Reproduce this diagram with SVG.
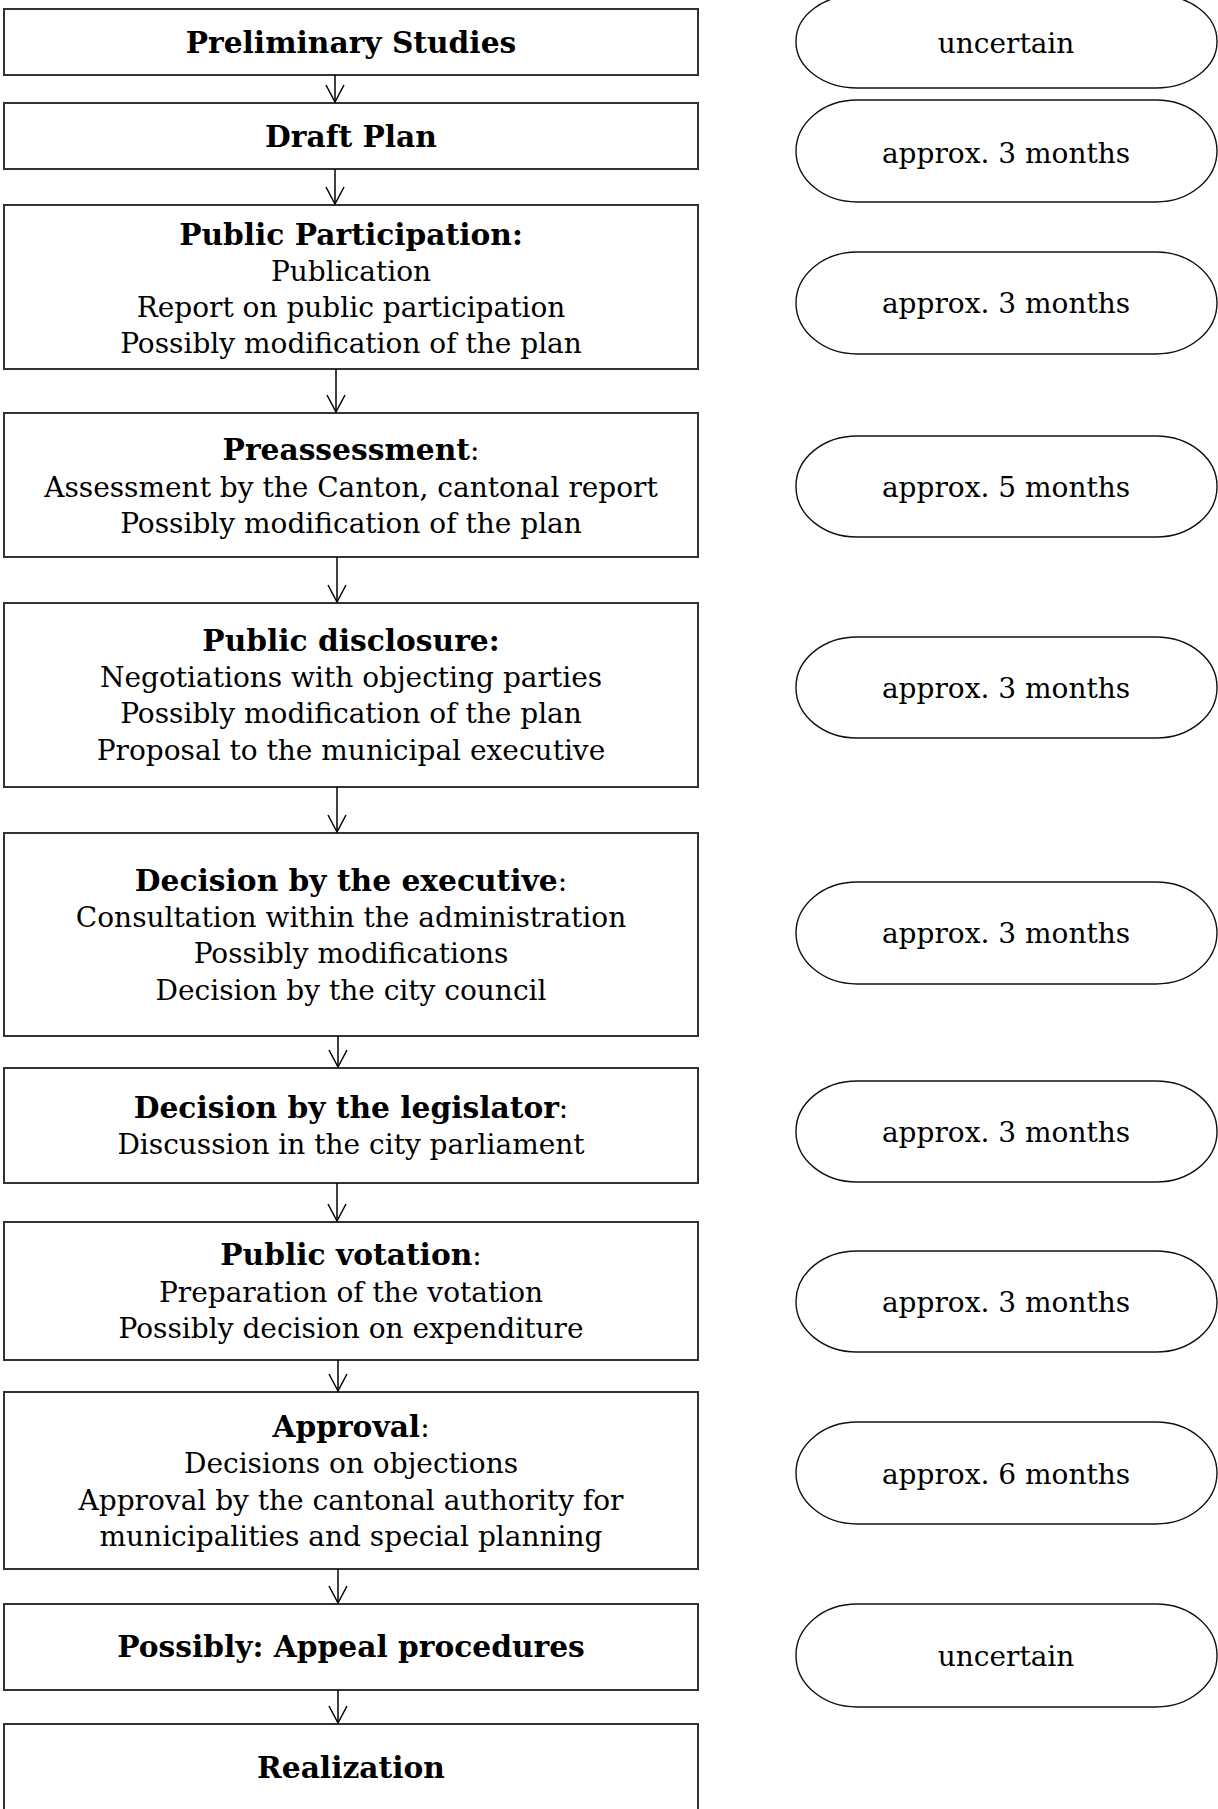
<svg xmlns="http://www.w3.org/2000/svg" width="1218" height="1809" viewBox="0 0 1218 1809">
<style>
  .box { fill: #ffffff; stroke: #333333; stroke-width: 2; }
  .pill { fill: #ffffff; stroke: #111111; stroke-width: 1.4; }
  .t { font-family: "DejaVu Serif", serif; font-size: 28px; fill: #000000; text-anchor: middle; }
  .b { font-weight: bold; font-size: 29.7px; }
  .conn line { stroke: #000000; stroke-width: 1.5; }
</style>
<defs>
  <marker id="arr" viewBox="0 0 20 20" refX="18" refY="10" markerWidth="20" markerHeight="20" markerUnits="userSpaceOnUse" orient="auto">
    <path d="M1,1 L18,10 L1,19" fill="none" stroke="#000000" stroke-width="1.5"/>
  </marker>
</defs>
<rect width="1218" height="1809" fill="#ffffff"/>

<g id="n1"><rect class="box" x="4" y="9" width="694" height="66"/>
<text class="t b" x="351" y="53">Preliminary Studies</text></g>

<g id="n2"><rect class="box" x="4" y="103" width="694" height="66"/>
<text class="t b" x="351" y="147">Draft Plan</text></g>

<g id="n3"><rect class="box" x="4" y="205" width="694" height="164"/>
<text class="t b" x="351" y="245">Public Participation:</text>
<text class="t" x="351" y="281">Publication</text>
<text class="t" x="351" y="317">Report on public participation</text>
<text class="t" x="351" y="353">Possibly modification of the plan</text></g>

<g id="n4"><rect class="box" x="4" y="413" width="694" height="144"/>
<text class="t" x="351" y="460"><tspan class="b">Preassessment</tspan>:</text>
<text class="t" x="351" y="497">Assessment by the Canton, cantonal report</text>
<text class="t" x="351" y="533">Possibly modification of the plan</text></g>

<g id="n5"><rect class="box" x="4" y="603" width="694" height="184"/>
<text class="t b" x="351" y="651">Public disclosure:</text>
<text class="t" x="351" y="687">Negotiations with objecting parties</text>
<text class="t" x="351" y="723">Possibly modification of the plan</text>
<text class="t" x="351" y="760">Proposal to the municipal executive</text></g>

<g id="n6"><rect class="box" x="4" y="833" width="694" height="203"/>
<text class="t" x="351" y="891"><tspan class="b">Decision by the executive</tspan>:</text>
<text class="t" x="351" y="927">Consultation within the administration</text>
<text class="t" x="351" y="963">Possibly modifications</text>
<text class="t" x="351" y="1000">Decision by the city council</text></g>

<g id="n7"><rect class="box" x="4" y="1068" width="694" height="115"/>
<text class="t" x="351" y="1118"><tspan class="b">Decision by the legislator</tspan>:</text>
<text class="t" x="351" y="1154">Discussion in the city parliament</text></g>

<g id="n8"><rect class="box" x="4" y="1222" width="694" height="138"/>
<text class="t" x="351" y="1265"><tspan class="b">Public votation</tspan>:</text>
<text class="t" x="351" y="1302">Preparation of the votation</text>
<text class="t" x="351" y="1338">Possibly decision on expenditure</text></g>

<g id="n9"><rect class="box" x="4" y="1392" width="694" height="177"/>
<text class="t" x="351" y="1437"><tspan class="b">Approval</tspan>:</text>
<text class="t" x="351" y="1473">Decisions on objections</text>
<text class="t" x="351" y="1510">Approval by the cantonal authority for</text>
<text class="t" x="351" y="1546">municipalities and special planning</text></g>

<g id="n10"><rect class="box" x="4" y="1604" width="694" height="86"/>
<text class="t b" x="351" y="1657">Possibly: Appeal procedures</text></g>

<g id="n11"><rect class="box" x="4" y="1724" width="694" height="110"/>
<text class="t b" x="351" y="1778">Realization</text></g>

<g id="d1"><rect class="pill" x="796" y="-5" width="421" height="93" rx="61" ry="46"/>
<text class="t" x="1006" y="53">uncertain</text></g>
<g id="d2"><rect class="pill" x="796" y="100" width="421" height="102" rx="61" ry="51"/>
<text class="t" x="1006" y="163">approx. 3 months</text></g>
<g id="d3"><rect class="pill" x="796" y="252" width="421" height="102" rx="61" ry="51"/>
<text class="t" x="1006" y="313">approx. 3 months</text></g>
<g id="d4"><rect class="pill" x="796" y="436" width="421" height="101" rx="61" ry="50"/>
<text class="t" x="1006" y="497">approx. 5 months</text></g>
<g id="d5"><rect class="pill" x="796" y="637" width="421" height="101" rx="61" ry="50"/>
<text class="t" x="1006" y="698">approx. 3 months</text></g>
<g id="d6"><rect class="pill" x="796" y="882" width="421" height="102" rx="61" ry="51"/>
<text class="t" x="1006" y="943">approx. 3 months</text></g>
<g id="d7"><rect class="pill" x="796" y="1081" width="421" height="101" rx="61" ry="50"/>
<text class="t" x="1006" y="1142">approx. 3 months</text></g>
<g id="d8"><rect class="pill" x="796" y="1251" width="421" height="101" rx="61" ry="50"/>
<text class="t" x="1006" y="1312">approx. 3 months</text></g>
<g id="d9"><rect class="pill" x="796" y="1422" width="421" height="102" rx="61" ry="51"/>
<text class="t" x="1006" y="1484">approx. 6 months</text></g>
<g id="d10"><rect class="pill" x="796" y="1604" width="421" height="103" rx="61" ry="51"/>
<text class="t" x="1006" y="1666">uncertain</text></g>

<g id="connectors" class="conn">
  <line x1="335" y1="75" x2="335" y2="102" marker-end="url(#arr)"/>
  <line x1="335" y1="169" x2="335" y2="204" marker-end="url(#arr)"/>
  <line x1="336" y1="369" x2="336" y2="412" marker-end="url(#arr)"/>
  <line x1="337" y1="557" x2="337" y2="602" marker-end="url(#arr)"/>
  <line x1="337" y1="787" x2="337" y2="832" marker-end="url(#arr)"/>
  <line x1="338" y1="1036" x2="338" y2="1067" marker-end="url(#arr)"/>
  <line x1="337" y1="1183" x2="337" y2="1221" marker-end="url(#arr)"/>
  <line x1="338" y1="1360" x2="338" y2="1391" marker-end="url(#arr)"/>
  <line x1="338" y1="1569" x2="338" y2="1603" marker-end="url(#arr)"/>
  <line x1="338" y1="1690" x2="338" y2="1723" marker-end="url(#arr)"/>
</g>
</svg>
